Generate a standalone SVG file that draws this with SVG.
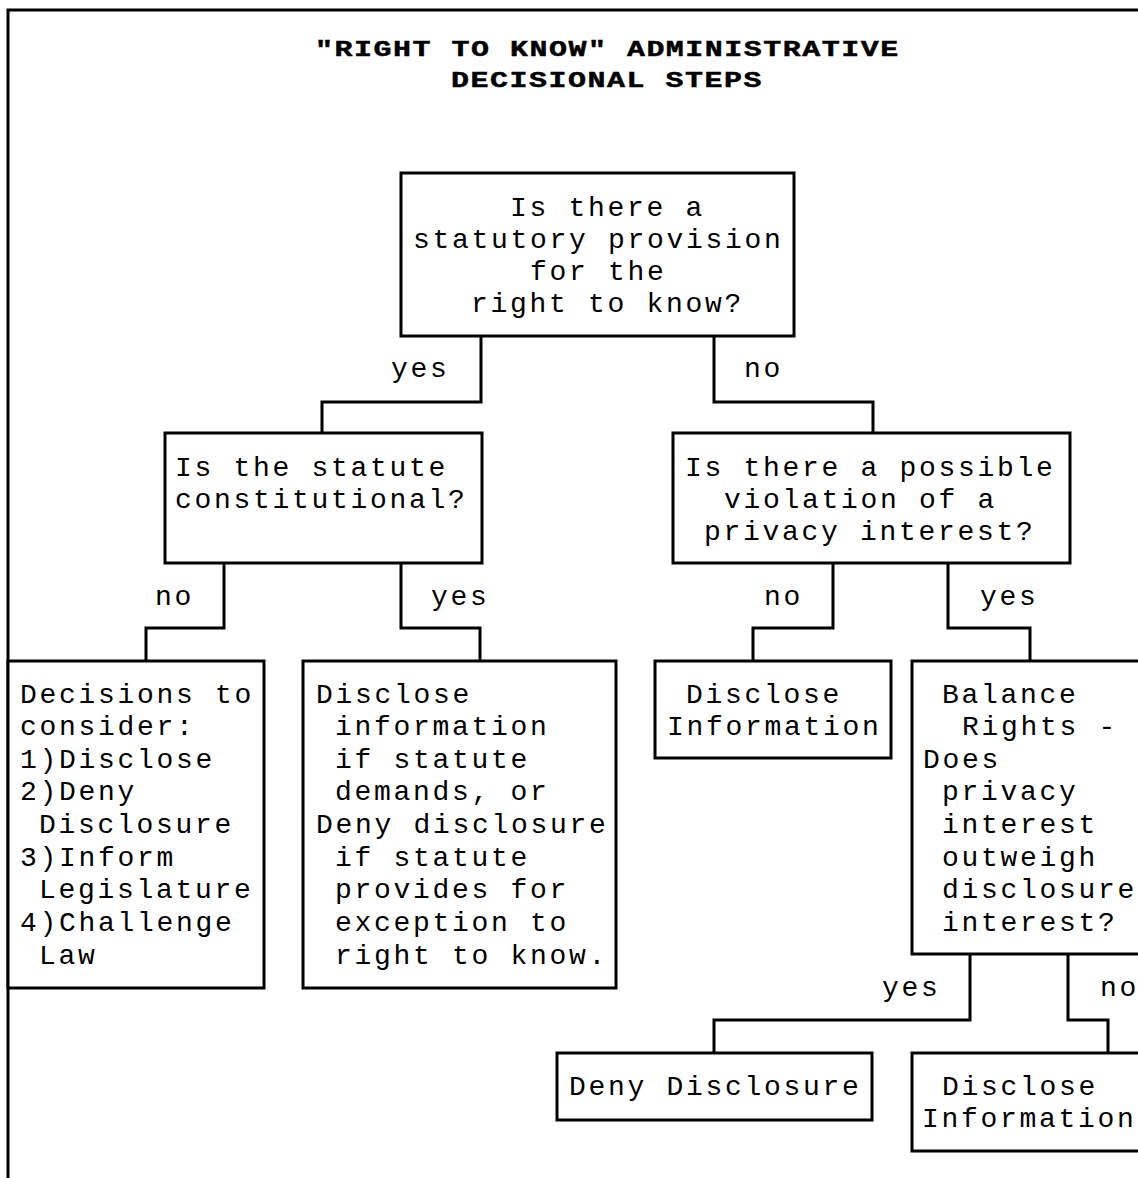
<svg xmlns="http://www.w3.org/2000/svg" width="1138" height="1178" viewBox="0 0 1138 1178">
<style>
.bx{fill:#fff;stroke:#000;stroke-width:3}
.cn{fill:none;stroke:#000;stroke-width:3}
.t{font-family:"Liberation Mono","Courier New",monospace;font-size:28px;letter-spacing:2.7px;fill:#000}
.ti{font-family:"Liberation Mono","Courier New",monospace;font-size:30px;letter-spacing:1.5px;font-weight:bold;fill:#000;stroke:#000;stroke-width:0.6}
</style>
<rect width="1138" height="1178" fill="#fff"/>
<g id="frame">
<polyline class="cn" points="8,1178 8,10 1138,10"/>
</g>
<g id="title">
<text class="ti" transform="translate(315,56) scale(1,0.74)">"RIGHT TO KNOW" ADMINISTRATIVE</text>
<text class="ti" transform="translate(451,87) scale(1,0.74)">DECISIONAL STEPS</text>
</g>
<g id="connectors">
<polyline class="cn" points="481,336 481,402 322,402 322,433"/>
<polyline class="cn" points="714,336 714,402 873,402 873,433"/>
<polyline class="cn" points="224,563 224,628 146,628 146,661"/>
<polyline class="cn" points="401,563 401,628 480,628 480,661"/>
<polyline class="cn" points="833,563 833,628 753,628 753,661"/>
<polyline class="cn" points="948,563 948,628 1030,628 1030,661"/>
<polyline class="cn" points="970,954 970,1020 714,1020 714,1053"/>
<polyline class="cn" points="1068,954 1068,1020 1108,1020 1108,1053"/>
<text class="t" x="391" y="377">yes</text>
<text class="t" x="744" y="377">no</text>
<text class="t" x="155" y="605">no</text>
<text class="t" x="431" y="605">yes</text>
<text class="t" x="764" y="605">no</text>
<text class="t" x="980" y="605">yes</text>
<text class="t" x="882" y="996">yes</text>
<text class="t" x="1100" y="996">no</text>
</g>
<g id="nodeA">
<rect class="bx" x="401" y="173" width="393" height="163"/>
<text class="t" x="510" y="216">Is there a</text>
<text class="t" x="413" y="248">statutory provision</text>
<text class="t" x="530" y="280">for the</text>
<text class="t" x="471" y="312">right to know?</text>
</g>
<g id="nodeB">
<rect class="bx" x="165" y="433" width="317" height="130"/>
<text class="t" x="175" y="476">Is the statute</text>
<text class="t" x="175" y="508">constitutional?</text>
</g>
<g id="nodeC">
<rect class="bx" x="673" y="433" width="397" height="130"/>
<text class="t" x="685" y="476">Is there a possible</text>
<text class="t" x="724" y="508">violation of a</text>
<text class="t" x="704" y="540">privacy interest?</text>
</g>
<g id="nodeD">
<rect class="bx" x="8" y="661" width="256" height="327"/>
<text class="t" x="20" y="703">Decisions to</text>
<text class="t" x="20" y="735">consider:</text>
<text class="t" x="20" y="768">1)Disclose</text>
<text class="t" x="20" y="800">2)Deny</text>
<text class="t" x="39" y="833">Disclosure</text>
<text class="t" x="20" y="866">3)Inform</text>
<text class="t" x="39" y="898">Legislature</text>
<text class="t" x="20" y="931">4)Challenge</text>
<text class="t" x="39" y="964">Law</text>
</g>
<g id="nodeE">
<rect class="bx" x="303" y="661" width="313" height="327"/>
<text class="t" x="316" y="703">Disclose</text>
<text class="t" x="335" y="735">information</text>
<text class="t" x="335" y="768">if statute</text>
<text class="t" x="335" y="800">demands, or</text>
<text class="t" x="316" y="833">Deny disclosure</text>
<text class="t" x="335" y="866">if statute</text>
<text class="t" x="335" y="898">provides for</text>
<text class="t" x="335" y="931">exception to</text>
<text class="t" x="335" y="964">right to know.</text>
</g>
<g id="nodeF">
<rect class="bx" x="655" y="661" width="236" height="97"/>
<text class="t" x="686" y="703">Disclose</text>
<text class="t" x="667" y="735">Information</text>
</g>
<g id="nodeG">
<rect class="bx" x="912" y="661" width="240" height="293"/>
<text class="t" x="942" y="703">Balance</text>
<text class="t" x="962" y="735">Rights -</text>
<text class="t" x="923" y="768">Does</text>
<text class="t" x="942" y="800">privacy</text>
<text class="t" x="942" y="833">interest</text>
<text class="t" x="942" y="866">outweigh</text>
<text class="t" x="942" y="898">disclosure</text>
<text class="t" x="942" y="931">interest?</text>
</g>
<g id="nodeH">
<rect class="bx" x="557" y="1053" width="315" height="67"/>
<text class="t" x="569" y="1095">Deny Disclosure</text>
</g>
<g id="nodeI">
<rect class="bx" x="912" y="1053" width="240" height="98"/>
<text class="t" x="942" y="1095">Disclose</text>
<text class="t" x="922" y="1127">Information</text>
</g>
</svg>
